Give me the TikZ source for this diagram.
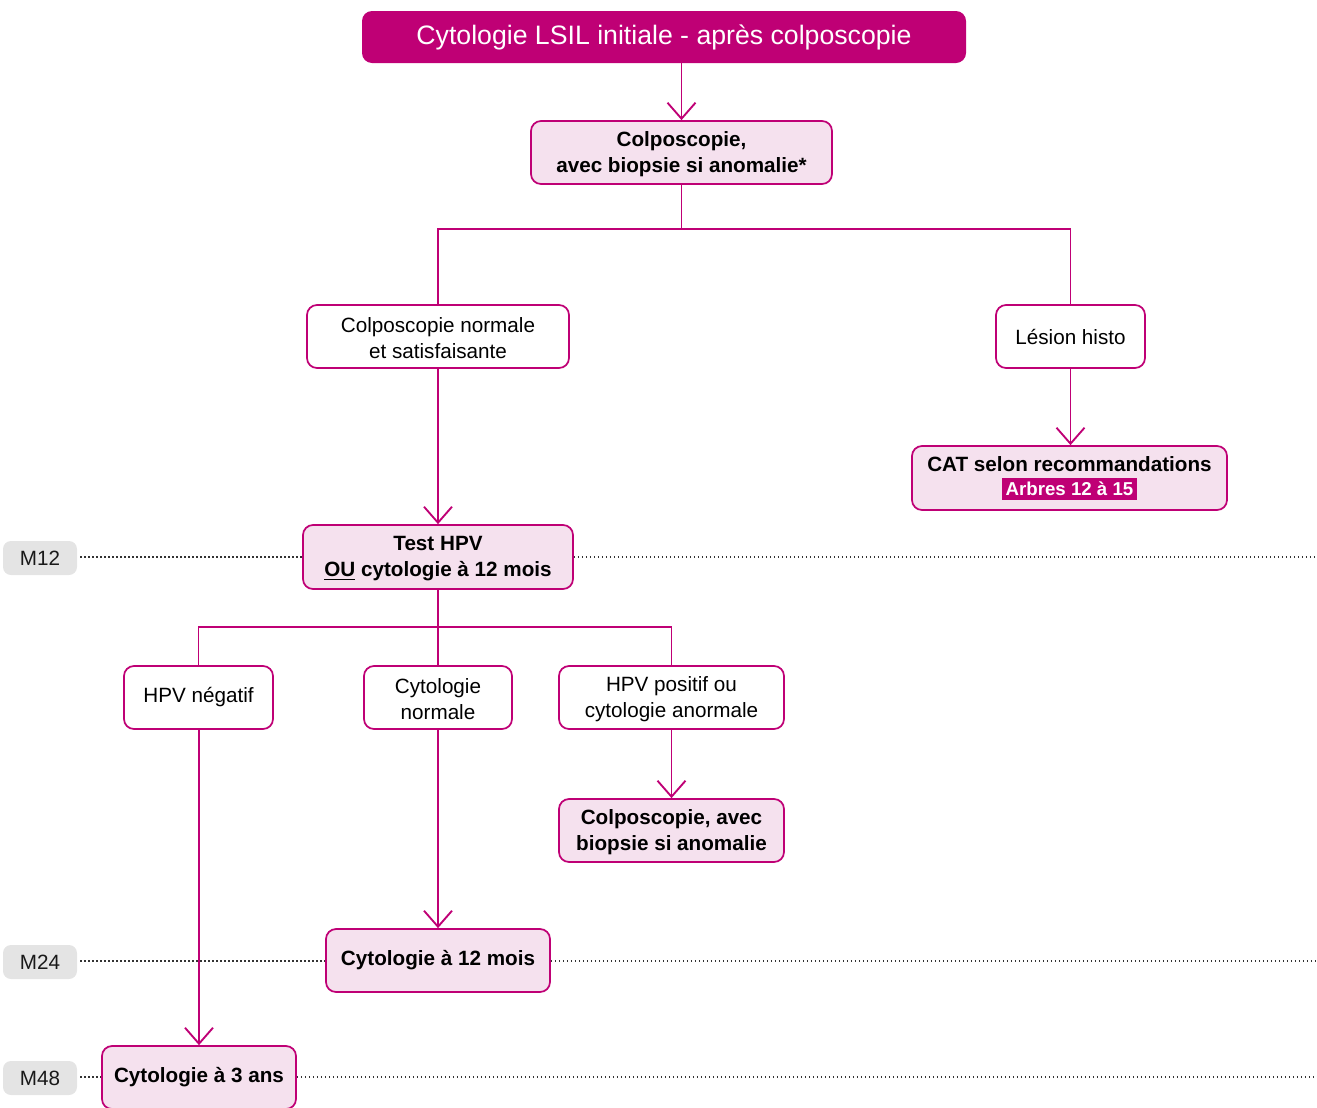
\documentclass[tikz,border=0pt]{standalone}
\usepackage{fontspec}
\setmainfont{Liberation Sans}
\usetikzlibrary{arrows.meta,calc}
\definecolor{mag}{HTML}{BF0075}
\definecolor{pinkfill}{HTML}{F5E1EE}
\definecolor{mgray}{HTML}{E4E4E4}
\begin{document}
\begin{tikzpicture}[x=0.75pt,y=-0.75pt,
  box/.style={draw=mag, line width=1.3pt, rounded corners=7.5pt, align=center, inner sep=0pt,
    font=\fontsize{15.5}{19.5}\selectfont, text=black},
  plain/.style={box, fill=white},
  pinkbox/.style={box, fill=pinkfill, font=\fontsize{15.5}{19.5}\selectfont\bfseries},
  mlab/.style={fill=mgray, rounded corners=6pt, minimum width=55.5pt, minimum height=25.5pt, inner sep=0pt,
    font=\fontsize{15.5}{18}\selectfont, text=black!90},
  conn/.style={draw=mag, line width=1.4pt},
  arr/.style={conn, -{Straight Barb[length=12pt,width=21pt,line width=1.4pt]}},
  dots/.style={draw=black!80, line width=1pt, dash pattern=on 1pt off 2pt}
]
\useasboundingbox (0,0) rectangle (1317,1107);

% title
\node[fill=mag, rounded corners=7.5pt, minimum width=453pt, minimum height=39pt, inner sep=0pt,
  text=white, font=\fontsize{20}{24}\selectfont] (title) at (664,37) {Cytologie LSIL initiale - après colposcopie};

\node[pinkbox, minimum width=225.75pt, minimum height=47.25pt] (colpo1) at (681.5,152.5) {\strut Colposcopie,\\avec biopsie si anomalie*};
\node[plain, minimum width=196.5pt, minimum height=47.25pt] (norm) at (438,336.5) {\strut Colposcopie normale\\et satisfaisante};
\node[plain, minimum width=111.75pt, minimum height=47.25pt] (lesion) at (1070.5,336.5) {Lésion histo};
\node[pinkbox, minimum width=236.25pt, minimum height=48pt] (cat) at (1069.5,478)
  {CAT selon recommandations\\[-1pt]{\setlength{\fboxsep}{3pt}\colorbox{mag}{\textcolor{white}{\fontsize{14}{16}\selectfont Arbres 12 à 15}}}};
\node[pinkbox, minimum width=202.5pt, minimum height=48pt] (test) at (438,557) {\strut Test HPV\\\underline{OU} cytologie à 12 mois};

\node[plain, minimum width=111.75pt, minimum height=47.25pt] (neg) at (198.5,697.5) {HPV négatif};
\node[plain, minimum width=111pt, minimum height=47.25pt] (cnorm) at (438,697.5) {\strut Cytologie\\normale};
\node[plain, minimum width=168.75pt, minimum height=47.25pt] (pos) at (671.5,697.5) {\strut HPV positif ou\\cytologie anormale};
\node[pinkbox, minimum width=168.75pt, minimum height=47.25pt] (colpo2) at (671.5,830.5) {\strut Colposcopie, avec\\biopsie si anomalie};
\node[pinkbox, minimum width=168pt, minimum height=47.25pt] (cyto12) at (438,960.5) {Cytologie à 12 mois};
\node[pinkbox, minimum width=145.5pt, minimum height=47.25pt] (cyto3) at (199,1077.5) {Cytologie à 3 ans};

% month labels
\node[mlab] (m12) at (40,558) {M12};
\node[mlab] (m24) at (40,962) {M24};
\node[mlab] (m48) at (40,1078) {M48};
\coordinate (e12) at (1317,557);
\coordinate (e24) at (1317,961);
\coordinate (e48) at (1317,1077);

% dotted lines
\draw[dots] ($(m12.east)+(3,-1)$) -- (test.west |- e12);
\draw[dots] (test.east |- e12) -- (e12);
\draw[dots] ($(m24.east)+(3,-1)$) -- (cyto12.west |- e24);
\draw[dots] (cyto12.east |- e24) -- (e24);
\draw[dots] ($(m48.east)+(3,-1)$) -- (cyto3.west |- e48);
\draw[dots] (cyto3.east |- e48) -- (e48);

% connectors
\draw[arr] (colpo1.north |- title.south) -- (colpo1.north);
\coordinate (s1) at (681.5,229);
\draw[conn] (colpo1.south) -- (s1);
\draw[conn] (norm.north) -- (norm.north |- s1) -- (lesion.north |- s1) -- (lesion.north);
\draw[arr] (lesion.south) -- (lesion.south |- cat.north);
\draw[arr] (norm.south) -- (test.north);

\coordinate (s2) at (438,627);
\draw[conn] (test.south) -- (s2);
\draw[conn] (neg.north) -- (neg.north |- s2) -- (pos.north |- s2) -- (pos.north);
\draw[conn] (cnorm.north) -- (s2);
\draw[arr] (pos.south) -- (colpo2.north);
\draw[arr] (cnorm.south) -- (cyto12.north);
\draw[arr] (cyto3.north |- neg.south) -- (cyto3.north);
\end{tikzpicture}
\end{document}
